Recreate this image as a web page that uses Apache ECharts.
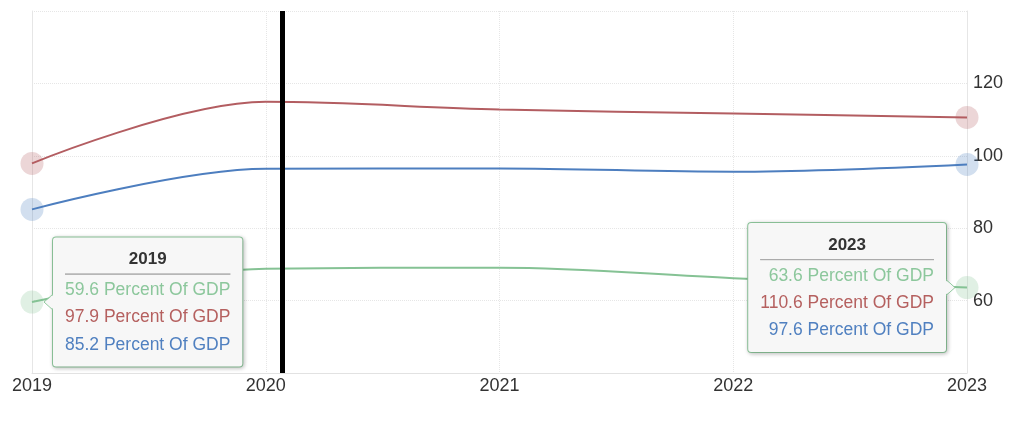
<!DOCTYPE html>
<html><head><meta charset="utf-8">
<script src="https://cdn.jsdelivr.net/npm/echarts@6/dist/echarts.min.js"></script>
<style>html,body{margin:0;padding:0;background:#fff}#c{width:1024px;height:424px}</style>
</head><body><div id="c"></div>
<script>
const years = [2019, 2020, 2021, 2022, 2023];
const greenVals = [59.6, 68.8, 69.1, 66.2, 63.6];
const redVals = [97.9, 114.9, 112.8, 111.7, 110.6];
const blueVals = [85.2, 96.4, 96.5, 95.6, 97.6];
const markerYear = [2020.07];
const unit = 'Percent Of GDP';

const FONT = '"Liberation Sans", Arial, sans-serif';
const C = { g: '#85c294', r: '#b35d61', b: '#4d7ebf' };
const HALO = { g: 'rgba(133,194,148,0.25)', r: 'rgba(179,93,97,0.25)', b: 'rgba(77,126,191,0.25)' };
const TC = { g: '#8cc79c', r: '#b5605f', b: '#5080c0' };
const last = years.length - 1;

function tipText(i) {
  return '{t|' + years[i] + '}\n{hr|}\n' +
    '{g|' + greenVals[i] + ' ' + unit + '}\n' +
    '{r|' + redVals[i] + ' ' + unit + '}\n' +
    '{b|' + blueVals[i] + ' ' + unit + '}';
}
function rich(align) {
  const row = c => ({ color: c, fontSize: 17.5, fontFamily: FONT, lineHeight: 27.3, align: align });
  return {
    t: { fontSize: 17, fontWeight: 'bold', color: '#333', fontFamily: FONT, lineHeight: 24, align: 'center' },
    hr: { borderColor: '#aaa', width: '100%', borderWidth: 1, height: 0, lineHeight: 5 },
    g: row(TC.g), r: row(TC.r), b: row(TC.b)
  };
}
function tipLabel(i, pos) {
  return {
    show: true, position: pos, distance: 9.5,
    formatter: () => tipText(i),
    backgroundColor: '#f7f7f7', borderColor: '#90c99e', borderWidth: 1, borderRadius: 3,
    padding: [10, 12, 8, 12],
    shadowBlur: 4, shadowColor: 'rgba(0,0,0,0.22)', shadowOffsetX: 1, shadowOffsetY: 1,
    rich: rich(pos === 'right' ? 'left' : 'right')
  };
}
function makeData(vals, withTips) {
  return vals.map((v, i) => {
    const end = (i === 0 || i === last);
    const item = { value: [years[i], v], symbolSize: end ? 23 : 0 };
    if (withTips && i === 0) item.label = tipLabel(i, 'right');
    if (withTips && i === last) item.label = tipLabel(i, 'left');
    return item;
  });
}
function series(name, vals, key, withTips) {
  return {
    name, type: 'line', data: makeData(vals, withTips), smooth: 0.35,
    symbol: 'circle', showSymbol: true, showAllSymbol: true,
    lineStyle: { color: C[key], width: 2 },
    itemStyle: { color: HALO[key] },
    emphasis: { disabled: true }, silent: true, z: withTips ? 3 : 2
  };
}

const chart = echarts.init(document.getElementById('c'));
const s = [
  series('Green', greenVals, 'g', true),
  series('Red', redVals, 'r', false),
  series('Blue', blueVals, 'b', false)
];
s[1].markLine = {
  silent: true, symbol: ['none', 'none'], label: { show: false },
  lineStyle: { color: '#000', width: 5, type: 'solid' },
  data: markerYear.map(x => ({ xAxis: x })), z: 5
};
chart.setOption({
  animation: false,
  grid: { left: 32, right: 57, top: 11, bottom: 51 },
  xAxis: {
    type: 'value', min: years[0], max: years[last], interval: 1,
    axisLine: { show: true, lineStyle: { color: '#e2e2e2' } },
    axisTick: { show: false },
    axisLabel: { fontSize: 18, color: '#333', fontFamily: FONT, margin: 4, formatter: v => String(v) },
    splitLine: { show: true, lineStyle: { color: '#e6e6e6', type: 'dotted' } }
  },
  yAxis: [{
    type: 'value', position: 'right', min: 40, max: 140, interval: 20,
    axisLine: { show: true, lineStyle: { color: '#e6e6e6' } },
    axisTick: { show: false },
    axisLabel: { fontSize: 18, color: '#333', fontFamily: FONT, margin: 6, showMinLabel: false, showMaxLabel: false, padding: [0, 0, 5, 0] },
    splitLine: { show: true, lineStyle: { color: '#e6e6e6', type: 'dotted' } }
  }, {
    type: 'value', position: 'left', min: 40, max: 140, interval: 20,
    axisLine: { show: true, lineStyle: { color: '#e6e6e6' } },
    axisTick: { show: false }, axisLabel: { show: false }, splitLine: { show: false }
  }],
  series: s
});

// callout arrows for the two static tooltip boxes
const arrows = [];
[[0, 1], [last, -1]].forEach(([i, dir]) => {
  const p = chart.convertToPixel({ seriesIndex: 0 }, [years[i], greenVals[i]]);
  const edge = p[0] + dir * (11.5 + 9.5);
  const tip = [p[0] + dir * 12, p[1]];
  arrows.push({
    type: 'polygon', z: 100,
    shape: { points: [[edge + dir * 1.5, p[1] - 8], tip, [edge + dir * 1.5, p[1] + 8]] },
    style: { fill: '#f7f7f7', stroke: null }
  });
  arrows.push({
    type: 'polyline', z: 101,
    shape: { points: [[edge, p[1] - 8], tip, [edge, p[1] + 8]] },
    style: { stroke: '#90c99e', lineWidth: 1, fill: null }
  });
});
chart.setOption({ graphic: arrows });
</script>
</body></html>
